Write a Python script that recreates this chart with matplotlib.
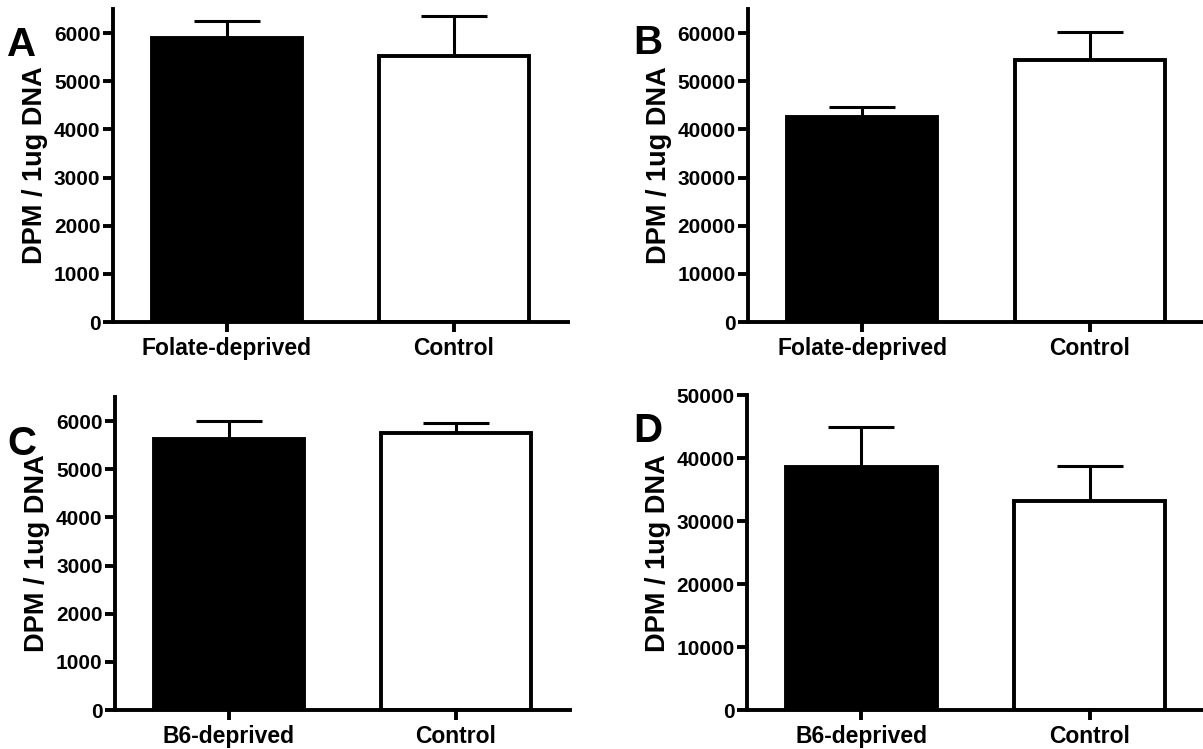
import numpy as np
import matplotlib
matplotlib.use("Agg")
import matplotlib.pyplot as plt

plt.rcParams['font.family'] = ['Liberation Sans', 'DejaVu Sans']
plt.rcParams['font.weight'] = 'bold'

# values (mean and upper SEM)
labels_folate = ["Folate-deprived", "Control"]
labels_b6 = ["B6-deprived", "Control"]

mean_a = [5890, 5530]
err_a = [370, 820]
mean_b = [42560, 54400]
err_b = [2040, 5800]
mean_c = [5630, 5750]
err_c = [380, 210]
mean_d = [38700, 33300]
err_d = [6300, 5500]

ylab = "DPM / 1ug DNA"
LW = 2.8

def panel(ax, labels, means, errs, ymax, ystep, letter, fig, lx, ly):
    x = np.arange(len(labels))
    ax.errorbar(x, means, yerr=[np.zeros(len(errs)), errs], fmt='none',
                ecolor='black', elinewidth=2.2, capsize=24, capthick=2.2, zorder=1)
    ax.bar(x, means, width=0.66, color=['black', 'white'], edgecolor='black',
           linewidth=LW, zorder=2)
    ax.set_xlim(-0.5, 1.5)
    ax.set_ylim(0, ymax)
    ax.set_yticks(np.arange(0, ymax + 1, ystep))
    ax.set_xticks(x)
    ax.set_xticklabels(labels, fontsize=16.5, fontweight='bold')
    for t in ax.get_yticklabels():
        t.set_fontsize(15)
        t.set_fontweight('bold')
    ax.set_ylabel(ylab, fontsize=19.5, fontweight='bold', labelpad=4)
    for s in ['top', 'right']:
        ax.spines[s].set_visible(False)
    for s in ['left', 'bottom']:
        ax.spines[s].set_linewidth(LW)
    ax.tick_params(axis='both', width=LW, length=7, pad=2)
    ax.tick_params(axis='x', pad=4)
    fig.text(lx, ly, letter, fontsize=29, fontweight='bold', va='top', ha='left')

fig = plt.figure(figsize=(12.03, 7.49), dpi=100)
axA = fig.add_axes([0.0939, 0.570, 0.378, 0.418])
axB = fig.add_axes([0.6218, 0.570, 0.379, 0.418])
axC = fig.add_axes([0.0956, 0.052, 0.378, 0.418])
axD = fig.add_axes([0.6210, 0.052, 0.380, 0.420])

panel(axA, labels_folate, mean_a, err_a, 6500, 1000, "A", fig, 0.006, 0.965)
panel(axB, labels_folate, mean_b, err_b, 65000, 10000, "B", fig, 0.526, 0.968)
panel(axC, labels_b6, mean_c, err_c, 6500, 1000, "C", fig, 0.006, 0.432)
panel(axD, labels_b6, mean_d, err_d, 50000, 10000, "D", fig, 0.526, 0.450)

fig.savefig("out.png", dpi=100)
